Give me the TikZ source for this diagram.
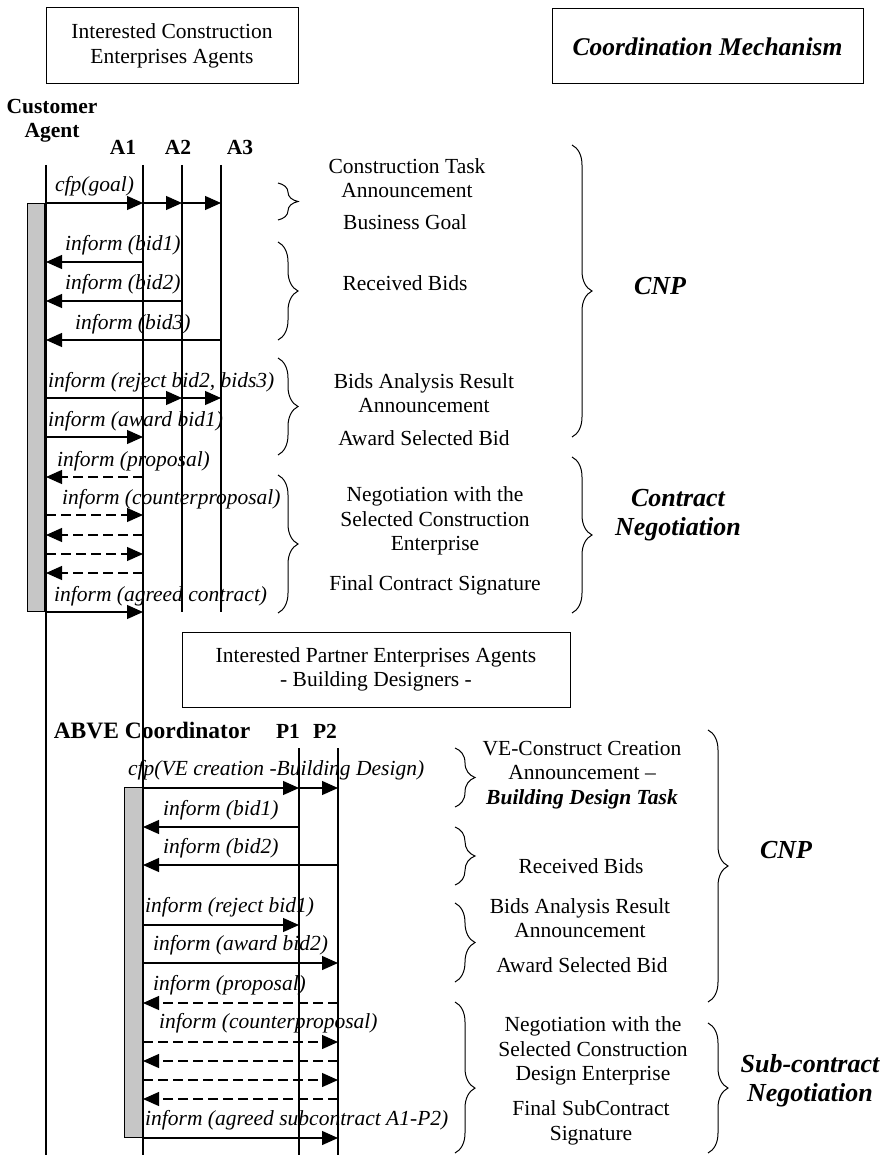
\documentclass[tikz,border=0pt]{standalone}
\usepackage{fontspec}
\setmainfont{Liberation Serif}
\usetikzlibrary{arrows.meta,decorations.pathreplacing}

\begin{document}
\fontsize{21.5}{24.5}\selectfont
\begin{tikzpicture}[
        x=1pt, y=-1pt,
        box/.style={draw, line width=1pt, align=center, inner sep=0pt},
        agent/.style={font=\bfseries, inner sep=0pt, anchor=base},
        lbl/.style={font=\itshape, inner sep=0pt, anchor=base west},
        phase/.style={align=center, inner sep=0pt},
        mech/.style={font=\fontsize{26}{29}\selectfont\bfseries\itshape, align=center, inner sep=0pt},
        life/.style={line width=1.3pt},
        act/.style={draw, line width=0.8pt, fill=gray!45},
        msg/.style={line width=1.2pt, -{Triangle[length=16pt, width=14pt]}},
        reply/.style={msg, dash pattern=on 10pt off 5pt},
        brc/.style={decorate, decoration={brace, amplitude=20pt}, line width=1pt},
    ]
        \useasboundingbox (0,0) rectangle (888,1155);

        % Headers
        \node[box, minimum width=252pt, minimum height=76pt] (ice) at (172,46) {Interested Construction\\Enterprises Agents};
        \node[box, minimum width=311pt, minimum height=75pt, font=\fontsize{25.5}{29}\selectfont\bfseries\itshape] (coord) at (707.5,46.5) {Coordination Mechanism};
        \node[box, minimum width=388pt, minimum height=75pt] (ipe) at (376,669.5) {Interested Partner Enterprises Agents\\- Building Designers -};

        % Agents
        \node[agent, align=center, anchor=center] (cust) at (52,121) {Customer\\Agent};
        \node[agent] (hA1) at (123,155) {A1};
        \node[agent] (hA2) at (178,155) {A2};
        \node[agent] (hA3) at (240,155) {A3};
        \node[agent, font=\fontsize{23.5}{27}\selectfont\bfseries] (abve) at (152,738) {ABVE Coordinator};
        \node[agent] (hP1) at (288,738) {P1};
        \node[agent] (hP2) at (325,738) {P2};

        % Lifelines
        \coordinate (lc) at (46,165);
        \coordinate (la1) at (143,165);
        \coordinate (la2) at (182,165);
        \coordinate (la3) at (221,165);
        \coordinate (lp1) at (299,748);
        \coordinate (lp2) at (338,748);
        \coordinate (endA) at (0,612);
        \coordinate (endB) at (0,1155);
        \draw[life] (lc) -- (lc |- endB);
        \draw[life] (la1) -- (la1 |- endB);
        \draw[life] (la2) -- (la2 |- endA);
        \draw[life] (la3) -- (la3 |- endA);
        \draw[life] (lp1) -- (lp1 |- endB);
        \draw[life] (lp2) -- (lp2 |- endB);

        % Activations
        \draw[act] (27,203) rectangle (44,611);
        \draw[act] (124,787) rectangle (142,1137);

        % Message rows
        \foreach \n/\y in {c1/203, b1/262, b2/301, b3/340, r1/398, w1/437,
                           p1/477, p2/515, p3/535, p4/554, p5/573, s1/612,
                           d1/788, e1/827, e2/865, f1/925, f2/963,
                           g1/1003, g2/1042, g3/1061, g4/1080, g5/1099, h1/1138}
            \coordinate (\n) at (0,\y);

        % Customer <-> construction enterprises
        \draw[msg] (lc |- c1) -- (la1 |- c1);
        \draw[msg] (la1 |- c1) -- (la2 |- c1);
        \draw[msg] (la2 |- c1) -- (la3 |- c1);
        \draw[msg] (la1 |- b1) -- (lc |- b1);
        \draw[msg] (la2 |- b2) -- (lc |- b2);
        \draw[msg] (la3 |- b3) -- (lc |- b3);
        \draw[msg] (lc |- r1) -- (la2 |- r1);
        \draw[msg] (la2 |- r1) -- (la3 |- r1);
        \draw[msg] (lc |- w1) -- (la1 |- w1);
        \draw[reply] (la1 |- p1) -- (lc |- p1);
        \draw[reply] (lc |- p2) -- (la1 |- p2);
        \draw[reply] (la1 |- p3) -- (lc |- p3);
        \draw[reply] (lc |- p4) -- (la1 |- p4);
        \draw[reply] (la1 |- p5) -- (lc |- p5);
        \draw[msg] (lc |- s1) -- (la1 |- s1);

        \node[lbl] (tc1) at (55,192) {cfp(goal)};
        \node[lbl] (tb1) at (65,251) {inform (bid1)};
        \node[lbl] (tb2) at (65,290) {inform (bid2)};
        \node[lbl] (tb3) at (75,329) {inform (bid3)};
        \node[lbl] (tr1) at (48,387) {inform (reject bid2, bids3)};
        \node[lbl] (tw1) at (48,426) {inform (award bid1)};
        \node[lbl] (tp1) at (57,466) {inform (proposal)};
        \node[lbl] (tp2) at (62,504) {inform (counterproposal)};
        \node[lbl] (ts1) at (54,601) {inform (agreed contract)};

        % Coordinator <-> building designers
        \draw[msg] (la1 |- d1) -- (lp1 |- d1);
        \draw[msg] (lp1 |- d1) -- (lp2 |- d1);
        \draw[msg] (lp1 |- e1) -- (la1 |- e1);
        \draw[msg] (lp2 |- e2) -- (la1 |- e2);
        \draw[msg] (la1 |- f1) -- (lp1 |- f1);
        \draw[msg] (la1 |- f2) -- (lp2 |- f2);
        \draw[reply] (lp2 |- g1) -- (la1 |- g1);
        \draw[reply] (la1 |- g2) -- (lp2 |- g2);
        \draw[reply] (lp2 |- g3) -- (la1 |- g3);
        \draw[reply] (la1 |- g4) -- (lp2 |- g4);
        \draw[reply] (lp2 |- g5) -- (la1 |- g5);
        \draw[msg] (la1 |- h1) -- (lp2 |- h1);

        \node[lbl] (td1) at (128,775) {cfp(VE creation -Building Design)};
        \node[lbl] (te1) at (163,815) {inform (bid1)};
        \node[lbl] (te2) at (163,853) {inform (bid2)};
        \node[lbl] (tf1) at (145,912) {inform (reject bid1)};
        \node[lbl] (tf2) at (153,950) {inform (award bid2)};
        \node[lbl] (tg1) at (153,990) {inform (proposal)};
        \node[lbl] (tg2) at (159,1028) {inform (counterproposal)};
        \node[lbl] (th1) at (145,1125) {inform (agreed subcontract A1-P2)};

        % Phases, upper part
        \draw[brc] (278,183) -- (278,220);
        \draw[brc] (278,242) -- (278,340);
        \draw[brc] (278,358) -- (278,455);
        \draw[brc] (278,475) -- (278,613);
        \draw[brc] (572,145) -- (572,437);
        \draw[brc] (572,457) -- (572,613);

        \node[phase] (ctask) at (407,178) {Construction Task\\Announcement};
        \node[phase] (bgoal) at (405,222) {Business Goal};
        \node[phase] (rbids) at (405,283) {Received Bids};
        \node[phase] (bares) at (424,393) {Bids Analysis Result\\Announcement};
        \node[phase] (award) at (424,438) {Award Selected Bid};
        \node[phase] (negot) at (435,521) {Negotiation with the\\Selected Construction\\Enterprise};
        \node[phase] (final) at (435,585) {Final Contract Signature};
        \node[mech] (cnpA) at (660,286) {CNP};
        \node[mech] (cneg) at (678,515) {Contract\\Negotiation};

        % Phases, lower part
        \draw[brc] (455,748) -- (455,807);
        \draw[brc] (455,827) -- (455,885);
        \draw[brc] (455,903) -- (455,982);
        \draw[brc, decoration={aspect=0.57}] (455,1002) -- (455,1153);
        \draw[brc] (708,730) -- (708,1002);
        \draw[brc] (708,1023) -- (708,1153);

        \node[phase] (vec) at (582,775) {VE-Construct Creation\\Announcement --\\\textbf{\textit{Building Design Task}}};
        \node[phase] (rbidsB) at (581,866) {Received Bids};
        \node[phase] (baresB) at (580,918) {Bids Analysis Result\\Announcement};
        \node[phase] (awardB) at (582,965) {Award Selected Bid};
        \node[phase] (negotB) at (593,1051) {Negotiation with the\\Selected Construction\\Design Enterprise};
        \node[phase] (finalB) at (591,1123) {Final SubContract\\Signature};
        \node[mech] (cnpB) at (786,850) {CNP};
        \node[mech] (subneg) at (810,1081) {Sub-contract\\Negotiation};

    \end{tikzpicture}
\end{document}
